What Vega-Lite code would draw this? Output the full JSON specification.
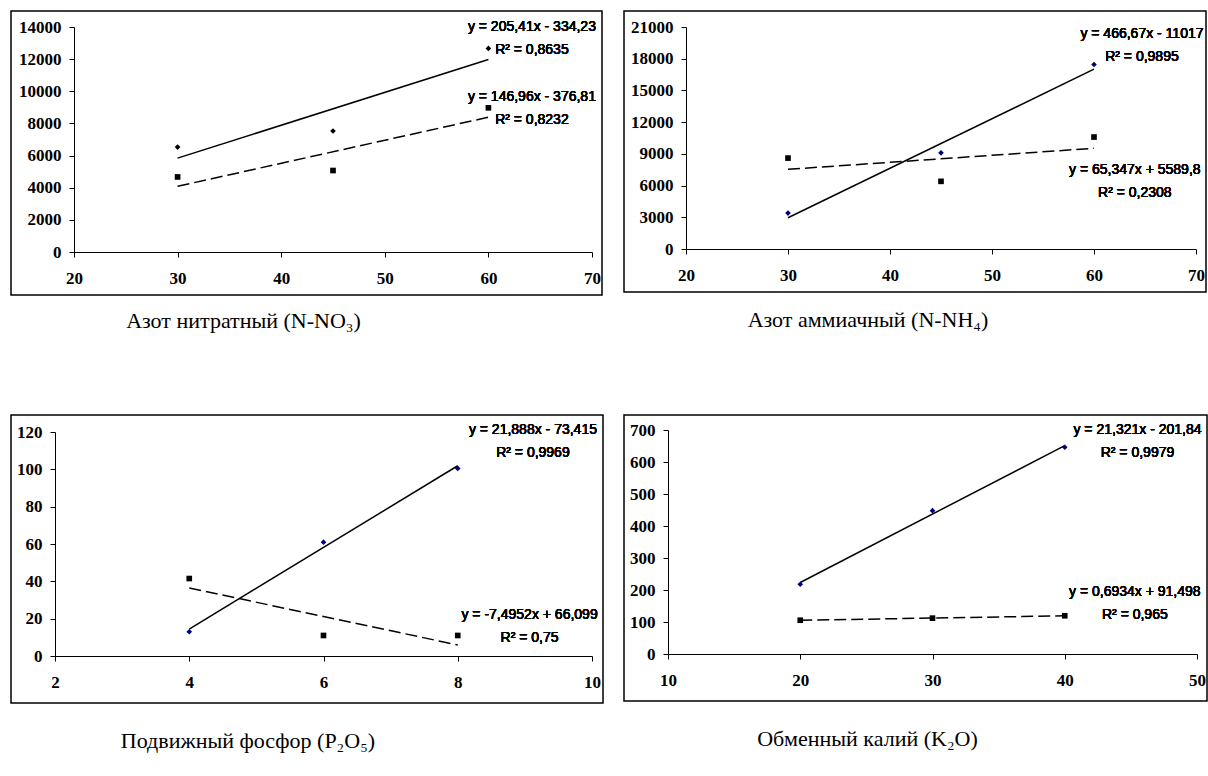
{
  "$schema": "https://vega.github.io/schema/vega-lite/v6.json",
  "background": "white",
  "padding": {"left": 10, "top": 10, "right": 2, "bottom": 2},
  "datasets": {
    "pts": [
      {"panel": 1, "series": "A", "x": 30, "y": 6530},
      {"panel": 1, "series": "A", "x": 45, "y": 7530},
      {"panel": 1, "series": "A", "x": 60, "y": 12670},
      {"panel": 1, "series": "B", "x": 30, "y": 4670},
      {"panel": 1, "series": "B", "x": 45, "y": 5070},
      {"panel": 1, "series": "B", "x": 60, "y": 8970},
      {"panel": 2, "series": "A", "x": 30, "y": 3400},
      {"panel": 2, "series": "A", "x": 45, "y": 9100},
      {"panel": 2, "series": "A", "x": 60, "y": 17450},
      {"panel": 2, "series": "B", "x": 30, "y": 8600},
      {"panel": 2, "series": "B", "x": 45, "y": 6400},
      {"panel": 2, "series": "B", "x": 60, "y": 10590},
      {"panel": 3, "series": "A", "x": 4, "y": 13},
      {"panel": 3, "series": "A", "x": 6, "y": 61},
      {"panel": 3, "series": "A", "x": 8, "y": 100.5},
      {"panel": 3, "series": "B", "x": 4, "y": 41.5},
      {"panel": 3, "series": "B", "x": 6, "y": 11},
      {"panel": 3, "series": "B", "x": 8, "y": 11},
      {"panel": 4, "series": "A", "x": 20, "y": 218},
      {"panel": 4, "series": "A", "x": 30, "y": 448},
      {"panel": 4, "series": "A", "x": 40, "y": 646},
      {"panel": 4, "series": "B", "x": 20, "y": 105.5},
      {"panel": 4, "series": "B", "x": 30, "y": 112},
      {"panel": 4, "series": "B", "x": 40, "y": 119.5}
    ]
  },
  "columns": 2,
  "align": "each",
  "spacing": {"row": 81, "column": 19},
  "concat": [
    {
      "width": 591, "height": 284,
      "data": {"name": "pts"},
      "transform": [{"filter": "datum.panel == 1"}],
      "title": {"text": "Азот нитратный (N-NO₃)", "dx": -63, "offset": 16},
      "encoding": {
        "x": {"field": "x", "type": "quantitative", "scale": {"domain": [20, 70], "range": [63, 581], "nice": false, "zero": false}, "axis": {"values": [20, 30, 40, 50, 60, 70], "offset": -43, "labelFont": "Liberation Serif", "labelFontSize": 17, "labelFontWeight": "bold"}},
        "y": {"field": "y", "type": "quantitative", "scale": {"domain": [0, 14000], "range": [241, 16], "nice": false, "zero": false}, "axis": {"values": [0, 2000, 4000, 6000, 8000, 10000, 12000, 14000], "offset": -63, "labelFont": "Liberation Serif", "labelFontSize": 17, "labelFontWeight": "bold"}}
      },
      "layer": [
        {"transform": [{"filter": "datum.series == 'A'"}, {"regression": "y", "on": "x"}],
         "mark": {"type": "line", "color": "black", "strokeWidth": 1.5}},
        {"transform": [{"filter": "datum.series == 'B'"}, {"regression": "y", "on": "x"}],
         "mark": {"type": "line", "color": "black", "strokeWidth": 1.5, "strokeDash": [12, 5]}},
        {"transform": [{"filter": "datum.series == 'A'"}],
         "mark": {"type": "point", "shape": "diamond", "filled": true, "color": "black", "size": 32, "opacity": 1}},
        {"transform": [{"filter": "datum.series == 'B'"}],
         "mark": {"type": "point", "shape": "square", "filled": true, "color": "black", "size": 32, "opacity": 1}},
        {"mark": {"type": "text", "lineBreak": "\n"},
         "encoding": {"x": {"datum": 64.2, "type": "quantitative"}, "y": {"datum": 14000, "type": "quantitative"}, "text": {"value": "y = 205,41x - 334,23\nR² = 0,8635"}}},
        {"mark": {"type": "text", "lineBreak": "\n"},
         "encoding": {"x": {"datum": 64.2, "type": "quantitative"}, "y": {"datum": 9650, "type": "quantitative"}, "text": {"value": "y = 146,96x - 376,81\nR² = 0,8232"}}}
      ]
    },
    {
      "width": 582, "height": 281,
      "data": {"name": "pts"},
      "transform": [{"filter": "datum.panel == 2"}],
      "title": {"text": "Азот аммиачный (N-NH₄)", "dx": -47, "offset": 18},
      "encoding": {
        "x": {"field": "x", "type": "quantitative", "scale": {"domain": [20, 70], "range": [62, 572], "nice": false, "zero": false}, "axis": {"values": [20, 30, 40, 50, 60, 70], "offset": -43, "labelFont": "Liberation Serif", "labelFontSize": 17, "labelFontWeight": "bold"}},
        "y": {"field": "y", "type": "quantitative", "scale": {"domain": [0, 21000], "range": [238, 16], "nice": false, "zero": false}, "axis": {"values": [0, 3000, 6000, 9000, 12000, 15000, 18000, 21000], "offset": -62, "labelFont": "Liberation Serif", "labelFontSize": 17, "labelFontWeight": "bold"}}
      },
      "layer": [
        {"transform": [{"filter": "datum.series == 'A'"}, {"regression": "y", "on": "x"}],
         "mark": {"type": "line", "color": "black", "strokeWidth": 1.5}},
        {"transform": [{"filter": "datum.series == 'B'"}, {"regression": "y", "on": "x"}],
         "mark": {"type": "line", "color": "black", "strokeWidth": 1.5, "strokeDash": [12, 5]}},
        {"transform": [{"filter": "datum.series == 'A'"}],
         "mark": {"type": "point", "shape": "diamond", "filled": true, "color": "#000080", "size": 32, "opacity": 1}},
        {"transform": [{"filter": "datum.series == 'B'"}],
         "mark": {"type": "point", "shape": "square", "filled": true, "color": "black", "size": 32, "opacity": 1}},
        {"mark": {"type": "text", "lineBreak": "\n"},
         "encoding": {"x": {"datum": 64.7, "type": "quantitative"}, "y": {"datum": 20330, "type": "quantitative"}, "text": {"value": "y = 466,67x - 11017\nR² = 0,9895"}}},
        {"mark": {"type": "text", "lineBreak": "\n"},
         "encoding": {"x": {"datum": 64.0, "type": "quantitative"}, "y": {"datum": 7470, "type": "quantitative"}, "text": {"value": "y = 65,347x + 5589,8\nR² = 0,2308"}}}
      ]
    },
    {
      "width": 592, "height": 288,
      "data": {"name": "pts"},
      "transform": [{"filter": "datum.panel == 3"}],
      "title": {"text": "Подвижный фосфор (P₂O₅)", "dx": -59, "offset": 28},
      "encoding": {
        "x": {"field": "x", "type": "quantitative", "scale": {"domain": [2, 10], "range": [44, 581], "nice": false, "zero": false}, "axis": {"values": [2, 4, 6, 8, 10], "offset": -47, "labelFont": "Liberation Serif", "labelFontSize": 17, "labelFontWeight": "bold"}},
        "y": {"field": "y", "type": "quantitative", "scale": {"domain": [0, 120], "range": [241, 17], "nice": false, "zero": false}, "axis": {"values": [0, 20, 40, 60, 80, 100, 120], "offset": -44, "labelFont": "Liberation Serif", "labelFontSize": 17, "labelFontWeight": "bold"}}
      },
      "layer": [
        {"transform": [{"filter": "datum.series == 'A'"}, {"regression": "y", "on": "x"}],
         "mark": {"type": "line", "color": "black", "strokeWidth": 1.5}},
        {"transform": [{"filter": "datum.series == 'B'"}, {"regression": "y", "on": "x"}],
         "mark": {"type": "line", "color": "black", "strokeWidth": 1.5, "strokeDash": [12, 5]}},
        {"transform": [{"filter": "datum.series == 'A'"}],
         "mark": {"type": "point", "shape": "diamond", "filled": true, "color": "#000080", "size": 32, "opacity": 1}},
        {"transform": [{"filter": "datum.series == 'B'"}],
         "mark": {"type": "point", "shape": "square", "filled": true, "color": "black", "size": 32, "opacity": 1}},
        {"mark": {"type": "text", "lineBreak": "\n"},
         "encoding": {"x": {"datum": 9.12, "type": "quantitative"}, "y": {"datum": 121, "type": "quantitative"}, "text": {"value": "y = 21,888x - 73,415\nR² = 0,9969"}}},
        {"mark": {"type": "text", "lineBreak": "\n"},
         "encoding": {"x": {"datum": 9.07, "type": "quantitative"}, "y": {"datum": 22, "type": "quantitative"}, "text": {"value": "y = -7,4952x + 66,099\nR² = 0,75"}}}
      ]
    },
    {
      "width": 583, "height": 286,
      "data": {"name": "pts"},
      "transform": [{"filter": "datum.panel == 4"}],
      "title": {"text": "Обменный калий (K₂O)", "dx": -48, "offset": 28},
      "encoding": {
        "x": {"field": "x", "type": "quantitative", "scale": {"domain": [10, 50], "range": [44, 573], "nice": false, "zero": false}, "axis": {"values": [10, 20, 30, 40, 50], "offset": -47, "labelFont": "Liberation Serif", "labelFontSize": 17, "labelFontWeight": "bold"}},
        "y": {"field": "y", "type": "quantitative", "scale": {"domain": [0, 700], "range": [239, 15], "nice": false, "zero": false}, "axis": {"values": [0, 100, 200, 300, 400, 500, 600, 700], "offset": -44, "labelFont": "Liberation Serif", "labelFontSize": 17, "labelFontWeight": "bold"}}
      },
      "layer": [
        {"transform": [{"filter": "datum.series == 'A'"}, {"regression": "y", "on": "x"}],
         "mark": {"type": "line", "color": "black", "strokeWidth": 1.5}},
        {"transform": [{"filter": "datum.series == 'B'"}, {"regression": "y", "on": "x"}],
         "mark": {"type": "line", "color": "black", "strokeWidth": 1.5, "strokeDash": [12, 5]}},
        {"transform": [{"filter": "datum.series == 'A'"}],
         "mark": {"type": "point", "shape": "diamond", "filled": true, "color": "#000080", "size": 32, "opacity": 1}},
        {"transform": [{"filter": "datum.series == 'B'"}],
         "mark": {"type": "point", "shape": "square", "filled": true, "color": "black", "size": 32, "opacity": 1}},
        {"mark": {"type": "text", "lineBreak": "\n"},
         "encoding": {"x": {"datum": 45.5, "type": "quantitative"}, "y": {"datum": 700, "type": "quantitative"}, "text": {"value": "y = 21,321x - 201,84\nR² = 0,9979"}}},
        {"mark": {"type": "text", "lineBreak": "\n"},
         "encoding": {"x": {"datum": 45.3, "type": "quantitative"}, "y": {"datum": 194, "type": "quantitative"}, "text": {"value": "y = 0,6934x + 91,498\nR² = 0,965"}}}
      ]
    }
  ],
  "config": {
    "view": {"stroke": "black", "strokeWidth": 1.5},
    "axis": {
      "grid": false, "title": null, "format": "d",
      "domainColor": "black", "domainWidth": 1, "tickColor": "black", "tickWidth": 1, "tickSize": 5,
      "labelColor": "black", "labelFlush": false, "labelOverlap": false
    },
    "axisX": {"labelPadding": 13},
    "axisY": {"labelPadding": 8},
    "text": {"font": "Liberation Sans", "fontSize": 14, "fontWeight": "normal", "color": "black", "align": "center", "baseline": "middle", "lineHeight": 23},
    "title": {"orient": "bottom", "anchor": "middle", "font": "Liberation Serif", "fontSize": 22, "fontWeight": "normal", "color": "black"}
  }
}
